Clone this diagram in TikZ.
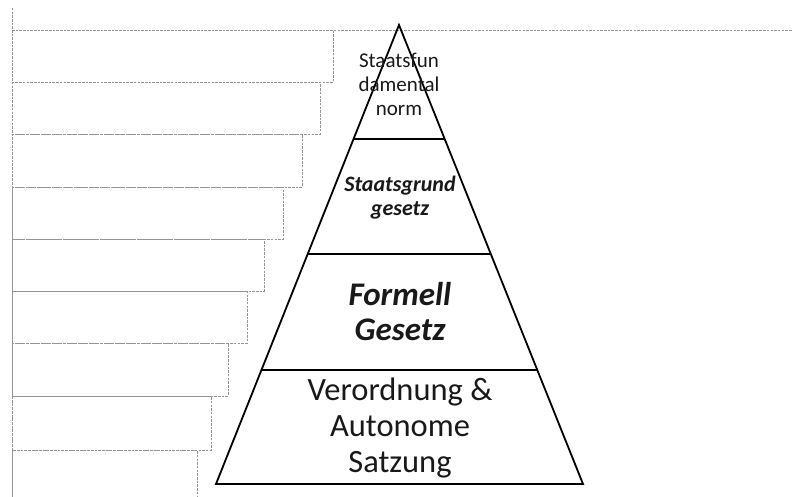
\documentclass[tikz,border=0pt]{standalone}
\usepackage{fontspec}
\setmainfont{Carlito}
\begin{document}
\begin{tikzpicture}[x=1pt,y=-1pt,
  dashbox/.style={draw=black!42,line width=0.8pt,dash pattern=on 2.5pt off 1.2pt},
  pyr/.style={draw=black,line width=1.8pt,line join=miter},
  lvl/.style={align=center,inner sep=0pt,text=black!90}]
\useasboundingbox (0,0) rectangle (792,497);
% dashed guide lines
\draw[dashbox] (12,8) -- (12,497);
\draw[dashbox] (12,30) -- (792,30);
% stair of dashed boxes
\draw[dashbox] (12,30) rectangle (333,82);
\draw[dashbox] (12,82) rectangle (320,134);
\draw[dashbox] (12,134) rectangle (302,187);
\draw[dashbox] (12,187) rectangle (283,239);
\draw[dashbox] (12,239) rectangle (264,291);
\draw[dashbox] (12,291) rectangle (247,343);
\draw[dashbox] (12,343) rectangle (228,396);
\draw[dashbox] (12,396) rectangle (211,450);
\draw[dashbox] (12,497) -- (12,450) -- (197,450) -- (197,497);
% pyramid
\coordinate (apex) at (399,25);
\coordinate (bl) at (216,484);
\coordinate (br) at (583,484);
\coordinate (l1) at (353.4,139); \coordinate (r1) at (444.6,139);
\coordinate (l2) at (307.4,254); \coordinate (r2) at (490.6,254);
\coordinate (l3) at (261.2,370); \coordinate (r3) at (536.8,370);
\draw[pyr] (apex) -- (br) -- (bl) -- cycle;
\draw[pyr] (l1) -- (r1);
\draw[pyr] (l2) -- (r2);
\draw[pyr] (l3) -- (r3);
% labels
\node[lvl,font=\fontsize{21}{24}\selectfont] (t1) at (399,84) {Staatsfun\\damental\\norm};
\node[lvl,font=\fontsize{22}{24}\selectfont\bfseries\itshape] (t2) at (400,198) {Staatsgrund\\gesetz};
\node[lvl,font=\fontsize{33}{35}\selectfont\bfseries\itshape] (t3) at (400,312) {Formell\\Gesetz};
\node[lvl,font=\fontsize{32.5}{36}\selectfont] (t4) at (400,428) {Verordnung \&\\Autonome\\Satzung};
\end{tikzpicture}
\end{document}
